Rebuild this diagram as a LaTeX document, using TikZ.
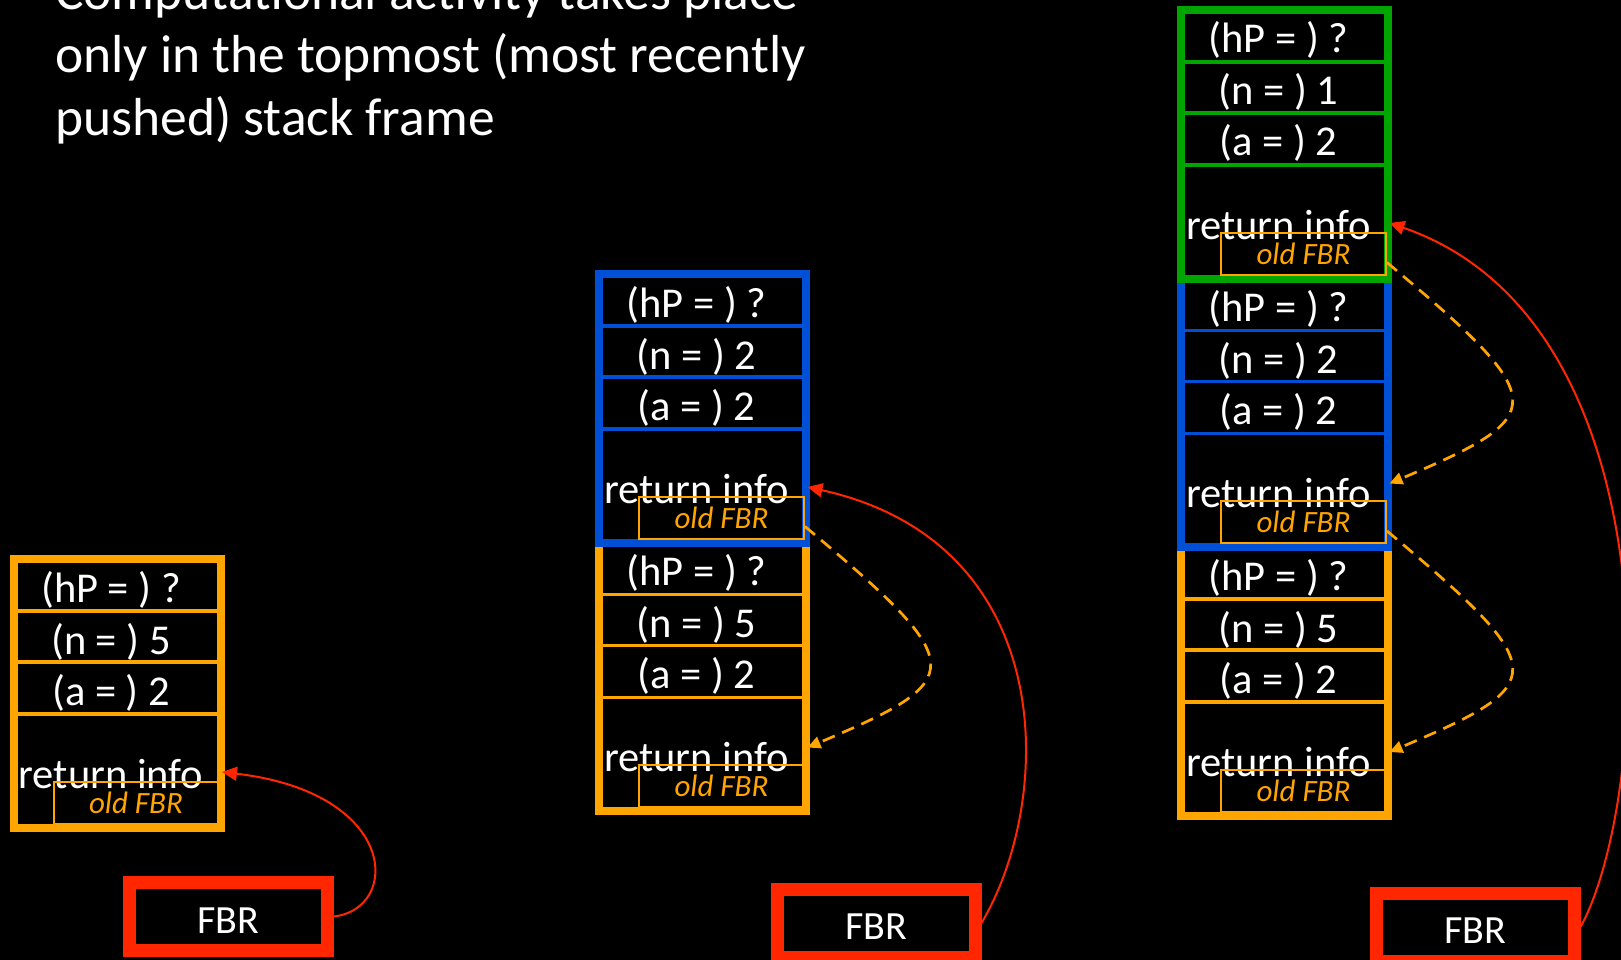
\documentclass[tikz,border=0pt]{standalone}
\usepackage{fontspec}
\setmainfont{Carlito}
\usetikzlibrary{arrows.meta}

% one stack frame: name, colour, centre x, top y, hP, n, a
\newcommand{\drawframe}[7]{%
  \draw[#2, line width=8pt, fill=black] (#3-103.5,#4) rectangle (#3+103.5,#4+268.5);
  \draw[#2, line width=3.5pt] (#3-100,#4+52) -- (#3+100,#4+52);
  \draw[#2, line width=3.5pt] (#3-100,#4+103) -- (#3+100,#4+103);
  \draw[#2, line width=3.5pt] (#3-100,#4+155) -- (#3+100,#4+155);
  \node [cell] (#1_hp) at (#3-6,#4+43) {(hP = ) #5};
  \node [cell] (#1_n) at (#3-6,#4+95) {(n = ) #6};
  \node [cell] (#1_a) at (#3-6,#4+146) {(a = ) #7};
  \node [cell] (#1_ret) at (#3-6,#4+229) {return info};
  \node [oldfbr] (#1_old) at (#3+19,#4+243.5) {old FBR};
  \coordinate (#1_in) at (#3+105,#4+213);
}

\begin{document}
\begin{tikzpicture}[x=1pt, y=-1pt]

  \definecolor{my_orange}{RGB}{255,165,0}
  \definecolor{my_blue}{RGB}{0,80,215}
  \definecolor{my_green}{RGB}{0,165,0}
  \definecolor{my_red}{RGB}{255,38,0}

  \tikzstyle{headline} = [text=white, font=\fontsize{53.5}{63}\selectfont, inner sep=0, anchor=base west]
  \tikzstyle{cell} = [text=white, font=\fontsize{42.5}{50}\selectfont, inner sep=0, anchor=base]
  \tikzstyle{oldfbr} = [rectangle, draw=my_orange, line width=2pt, text=my_orange, font=\fontsize{31}{37}\selectfont\itshape, minimum width=165pt, minimum height=42pt, inner sep=0]
  \tikzstyle{fbr} = [rectangle, draw=my_red, line width=13pt, text=white, font=\fontsize{40}{48}\selectfont, minimum width=198pt, minimum height=68pt, text height=33pt, text depth=0pt, inner sep=0]
  \tikzstyle{fbrlink} = [draw=my_red, line width=2pt, -{Triangle[length=15pt,width=14pt]}]
  \tikzstyle{oldlink} = [draw=my_orange, line width=2.7pt, dash pattern=on 13pt off 8pt, -{Triangle[length=13pt,width=12pt]}]

  \path [use as bounding box, fill=black] (0,0) rectangle (1621,960);
  \clip (0,0) rectangle (1621,960);

  \node [headline] (head_a) at (55,10) {Computational activity takes place};
  \node [headline] (head_b) at (55,73) {only in the topmost (most recently};
  \node [headline] (head_c) at (55,136) {pushed) stack frame};

  % stacks, lowest frame first
  \drawframe{l1}{my_orange}{117}{559}{?}{5}{2}

  \drawframe{m2}{my_orange}{702.5}{542.5}{?}{5}{2}
  \drawframe{m1}{my_blue}{702.5}{274}{?}{2}{2}

  \drawframe{r3}{my_orange}{1284.5}{547}{?}{5}{2}
  \drawframe{r2}{my_blue}{1284.5}{278.5}{?}{2}{2}
  \drawframe{r1}{my_green}{1284.5}{10}{?}{1}{2}

  \node [fbr] (fbr_l) at (228,916.5) {FBR};
  \node [fbr] (fbr_m) at (876,923) {FBR};
  \node [fbr] (fbr_r) at (1475,927) {FBR};

  \path [fbrlink] (fbr_l.east) .. controls +(67,-7) and +(178,21) .. (l1_in);
  \path [fbrlink] (fbr_m.east) .. controls +(73,-123) and +(253,56) .. (m1_in);
  \path [fbrlink] (fbr_r.east) .. controls +(70,-127) and +(290,100) .. (r1_in);

  \path [oldlink] ([yshift=-9pt]m1_old.east) .. controls +(167,140) and +(161,-68) .. ([yshift=8pt]m2_in);
  \path [oldlink] ([yshift=-9pt]r1_old.east) .. controls +(167,140) and +(161,-68) .. ([yshift=8pt]r2_in);
  \path [oldlink] ([yshift=-9pt]r2_old.east) .. controls +(167,140) and +(161,-68) .. ([yshift=8pt]r3_in);

\end{tikzpicture}
\end{document}
